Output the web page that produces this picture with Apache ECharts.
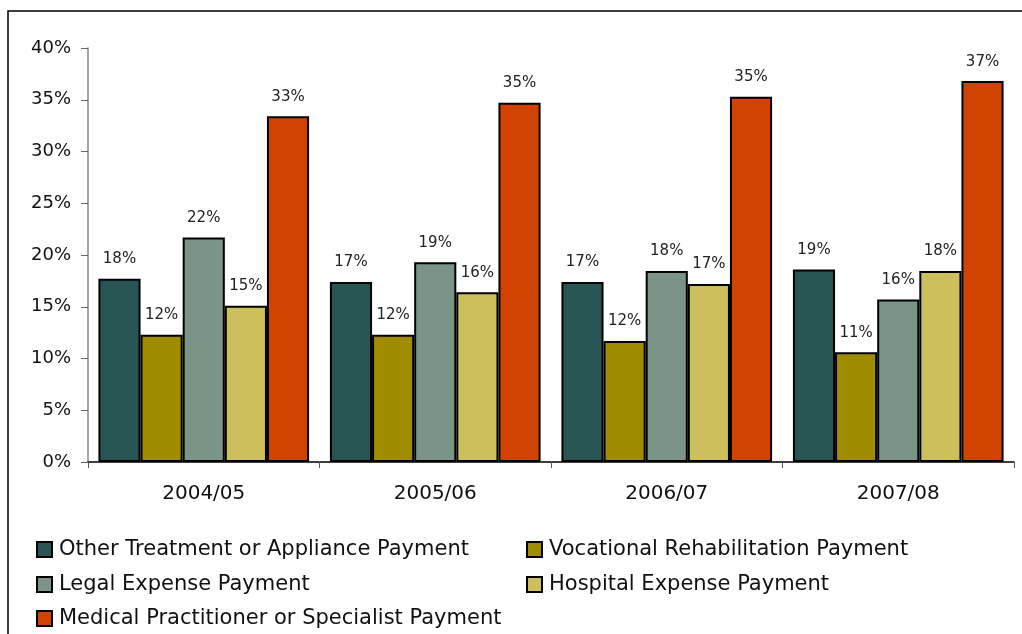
<!DOCTYPE html>
<html>
<head>
<meta charset="utf-8">
<script src="https://cdn.jsdelivr.net/npm/echarts@6/dist/echarts.min.js"></script>
<style>html,body{margin:0;padding:0;background:#fff}#c{width:1022px;height:634px}</style>
</head>
<body>
<div id="c"></div>
<script>
const categories = ['2004/05', '2005/06', '2006/07', '2007/08'];
const otherTreatment = [17.7, 17.4, 17.4, 18.6];
const vocational = [12.3, 12.3, 11.7, 10.6];
const legal = [21.7, 19.3, 18.45, 15.7];
const hospital = [15.1, 16.4, 17.2, 18.45];
const medical = [33.4, 34.7, 35.3, 36.8];
const seriesNames = [
  'Other Treatment or Appliance Payment',
  'Vocational Rehabilitation Payment',
  'Legal Expense Payment',
  'Hospital Expense Payment',
  'Medical Practitioner or Specialist Payment'
];
const colors = ['#285454', '#A08C00', '#7A9488', '#CCBF5C', '#D24200'];
const yTicks = [0, 5, 10, 15, 20, 25, 30, 35, 40];

const FONT = 'DejaVu Sans';
const dataSets = [otherTreatment, vocational, legal, hospital, medical];

// legend placement: [left, top] per series
const legendPos = [[36, 539], [526, 539], [36, 574], [526, 574], [36, 608]];

const chart = echarts.init(document.getElementById('c'), null, {renderer: 'canvas'});
chart.setOption({
  animation: false,
  backgroundColor: '#fff',
  textStyle: {fontFamily: FONT},
  color: colors,
  graphic: [
    {type: 'polyline', shape: {points: [[8, 640], [8, 11], [1030, 11]]}, style: {stroke: '#000', lineWidth: 1.5, fill: null}, silent: true}
  ],
  grid: {left: 88, right: 8, top: 48, bottom: 172, containLabel: false},
  legend: seriesNames.map((n, i) => ({
    data: [n],
    left: legendPos[i][0], top: legendPos[i][1],
    padding: 0,
    itemWidth: 15, itemHeight: 15, icon: 'rect',
    textStyle: {fontFamily: FONT, fontSize: 21, color: '#111', padding: [0, 0, 0, 2]},
    itemStyle: {borderColor: '#000', borderWidth: 2}
  })),
  xAxis: {
    type: 'category',
    data: categories,
    axisLine: {lineStyle: {color: '#000', width: 1.5}},
    axisTick: {show: true, length: 6, lineStyle: {color: '#555'}},
    axisLabel: {fontFamily: FONT, fontSize: 20, color: '#111', margin: 22}
  },
  yAxis: {
    type: 'value',
    min: 0, max: 40, interval: 5,
    splitLine: {show: false},
    axisLine: {show: true, lineStyle: {color: '#888', width: 1.5}},
    axisTick: {show: true, length: 7, lineStyle: {color: '#666'}},
    axisLabel: {fontFamily: FONT, fontSize: 18, color: '#111', margin: 17,
      formatter: v => yTicks.includes(v) ? v + '%' : ''}
  },
  series: dataSets.map((d, i) => ({
    name: seriesNames[i],
    type: 'bar',
    data: d,
    barGap: '0%',
    barCategoryGap: '9%',
    itemStyle: {color: colors[i], borderColor: '#000', borderWidth: 2},
    label: {
      show: true, position: 'top', distance: 12,
      fontFamily: FONT, fontSize: 15, color: '#222',
      formatter: p => Math.round(p.value) + '%'
    }
  }))
});
</script>
</body>
</html>
